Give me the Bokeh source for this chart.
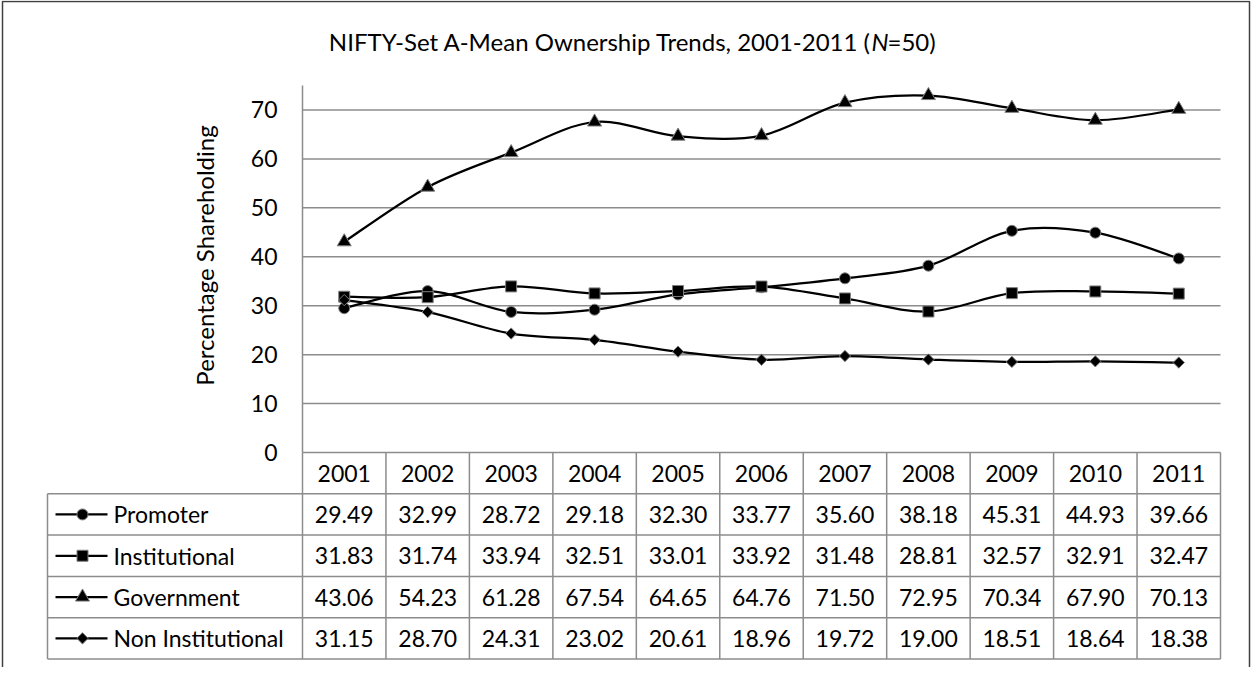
import numpy as np
from bokeh.plotting import figure
from bokeh.models import Range1d
from bokeh.embed import file_html
from bokeh.resources import INLINE
from bokeh.core.properties import value

# ---------------- data ----------------
years = ["2001", "2002", "2003", "2004", "2005", "2006", "2007", "2008", "2009", "2010", "2011"]
promoter = [29.49, 32.99, 28.72, 29.18, 32.30, 33.77, 35.60, 38.18, 45.31, 44.93, 39.66]
institutional = [31.83, 31.74, 33.94, 32.51, 33.01, 33.92, 31.48, 28.81, 32.57, 32.91, 32.47]
government = [43.06, 54.23, 61.28, 67.54, 64.65, 64.76, 71.50, 72.95, 70.34, 67.90, 70.13]
non_institutional = [31.15, 28.70, 24.31, 23.02, 20.61, 18.96, 19.72, 19.00, 18.51, 18.64, 18.38]
series_names = ["Promoter", "Institutional", "Government", "Non Institutional"]
y_ticks = [0, 10, 20, 30, 40, 50, 60, 70]
title_main = "NIFTY-Set A-Mean Ownership Trends, 2001-2011 ("
title_italic = "N"
title_tail = "=50)"
y_label = "Percentage Shareholding"

series = [promoter, institutional, government, non_institutional]

# ---------------- geometry (figure pixels) ----------------
W, H = 1251, 667
PL, PR = 302, 1220          # plot area left / right
PT, PB = 85, 452            # plot area top / bottom
YMAX = 75.0
s = (PB - PT) / YMAX        # px per value unit
ncol = len(years)
cw = (PR - PL) / ncol       # column width
rh = 41.3                   # table row height
LEG_L = 47                  # legend column left edge (px)

FONT = value("Lato")
FS = "23px"
GRID = "#8c8c8c"

p = figure(width=W, height=H,
           x_range=Range1d(-0.5 - PL / cw, ncol - 0.5 + (W - PR) / cw),
           y_range=Range1d(-(H - PB) / s, YMAX + PT / s),
           x_axis_type=None, y_axis_type=None, title=None,
           min_border=0, toolbar_location=None, output_backend="svg",
           outline_line_color=None, background_fill_color="white",
           border_fill_color="white")
p.extra_x_ranges = {"px": Range1d(0, W)}
p.extra_y_ranges = {"py": Range1d(H, 0),
                    "row": Range1d((H - PB) / rh, -PB / rh)}

xs = np.arange(ncol)

# ---------------- gridlines & axis ----------------
gt = [t for t in y_ticks if t > 0]
p.segment(x0=[-0.5] * len(gt), x1=[ncol - 0.5] * len(gt), y0=gt, y1=gt,
          line_color=GRID, line_width=1.5)
p.segment(x0=[-0.5], x1=[-0.5], y0=[0], y1=[YMAX], line_color=GRID, line_width=1.5)
p.text(x=[PL - 25] * len(y_ticks), y=y_ticks, text=[str(t) for t in y_ticks],
       x_range_name="px", text_align="right", text_baseline="middle",
       text_font=FONT, text_font_size=FS, text_color="black")

# ---------------- smoothed lines ----------------
def bezier_parts(ys):
    x = xs.astype(float)
    y = np.asarray(ys, dtype=float)
    xp = np.concatenate([[x[0]], x, [x[-1]]])
    yp = np.concatenate([[y[0]], y, [y[-1]]])
    n = len(x) - 1
    x0, y0 = x[:-1], y[:-1]
    x1, y1 = x[1:], y[1:]
    cx0 = x0 + (xp[2:n + 2] - xp[0:n]) / 6.0
    cy0 = y0 + (yp[2:n + 2] - yp[0:n]) / 6.0
    cx1 = x1 - (xp[3:n + 3] - xp[1:n + 1]) / 6.0
    cy1 = y1 - (yp[3:n + 3] - yp[1:n + 1]) / 6.0
    return dict(x0=x0, y0=y0, x1=x1, y1=y1, cx0=cx0, cy0=cy0, cx1=cx1, cy1=cy1)

markers = [dict(marker="circle", size=11, angle=0.0),
           dict(marker="square", size=11, angle=0.0),
           dict(marker="triangle", size=14, angle=0.0),
           dict(marker="square", size=8, angle=np.pi / 4)]

for ys, mk in zip(series, markers):
    b = bezier_parts(ys)
    p.bezier(line_color="black", line_width=2.25, **b)
for ys, mk in zip(series, markers):
    p.scatter(x=xs, y=ys, marker=mk["marker"], size=mk["size"], angle=mk["angle"],
              fill_color="black", line_color="#7f7f7f", line_width=1)

# ---------------- data table ----------------
nrows = len(series) + 1
vx = [k - 0.5 for k in range(ncol + 1)]
p.segment(x0=vx, x1=vx, y0=[0] * len(vx), y1=[nrows] * len(vx),
          y_range_name="row", line_color=GRID, line_width=1.5)
p.segment(x0=[-0.5], x1=[ncol - 0.5], y0=[0], y1=[0],
          y_range_name="row", line_color=GRID, line_width=1.5)
rl = list(range(1, nrows + 1))
p.segment(x0=[LEG_L] * len(rl), x1=[PR] * len(rl), y0=rl, y1=rl,
          x_range_name="px", y_range_name="row", line_color=GRID, line_width=1.5)
p.segment(x0=[LEG_L], x1=[LEG_L], y0=[1], y1=[nrows],
          x_range_name="px", y_range_name="row", line_color=GRID, line_width=1.5)

p.text(x=xs, y=[0.5] * ncol, text=years, y_range_name="row",
       text_align="center", text_baseline="middle",
       text_font=FONT, text_font_size=FS, text_color="black")
for r, ys in enumerate(series):
    p.text(x=xs, y=[r + 1.5] * ncol, text=["%.2f" % v for v in ys], y_range_name="row",
           text_align="center", text_baseline="middle",
           text_font=FONT, text_font_size=FS, text_color="black")

ry = [r + 1.5 for r in range(len(series))]
p.segment(x0=[LEG_L + 8] * len(ry), x1=[LEG_L + 60] * len(ry), y0=ry, y1=ry,
          x_range_name="px", y_range_name="row", line_color="black", line_width=2.25)
for r, mk in enumerate(markers):
    p.scatter(x=[LEG_L + 35], y=[r + 1.5], marker=mk["marker"], size=mk["size"],
              angle=mk["angle"], x_range_name="px", y_range_name="row",
              fill_color="black", line_color="#7f7f7f", line_width=1)
p.text(x=[LEG_L + 66] * len(ry), y=ry, text=series_names,
       x_range_name="px", y_range_name="row", text_align="left", text_baseline="middle",
       text_font=FONT, text_font_size=FS, text_color="black")

# ---------------- title & y label ----------------
TX, TY, TFS = 871, 41, "24px"
p.text(x=[TX], y=[TY], text=[title_main], x_range_name="px", y_range_name="py",
       text_align="right", text_baseline="middle",
       text_font=FONT, text_font_size=TFS, text_color="black")
p.text(x=[TX], y=[TY], text=[title_italic], x_range_name="px", y_range_name="py",
       text_align="left", text_baseline="middle", text_font_style="italic",
       text_font=FONT, text_font_size=TFS, text_color="black")
p.text(x=[TX + 16], y=[TY], text=[title_tail], x_range_name="px", y_range_name="py",
       text_align="left", text_baseline="middle",
       text_font=FONT, text_font_size=TFS, text_color="black")
p.text(x=[204], y=[255], text=[y_label], angle=np.pi / 2,
       x_range_name="px", y_range_name="py", text_align="center", text_baseline="middle",
       text_font=FONT, text_font_size="24px", text_color="black")

# ---------------- chart-area border ----------------
p.line(x=[2, 2, W - 2, W - 2], y=[H, 1, 1, H], x_range_name="px", y_range_name="py",
       line_color="#404040", line_width=1.5)

open("out.html", "w").write(file_html(p, INLINE))
